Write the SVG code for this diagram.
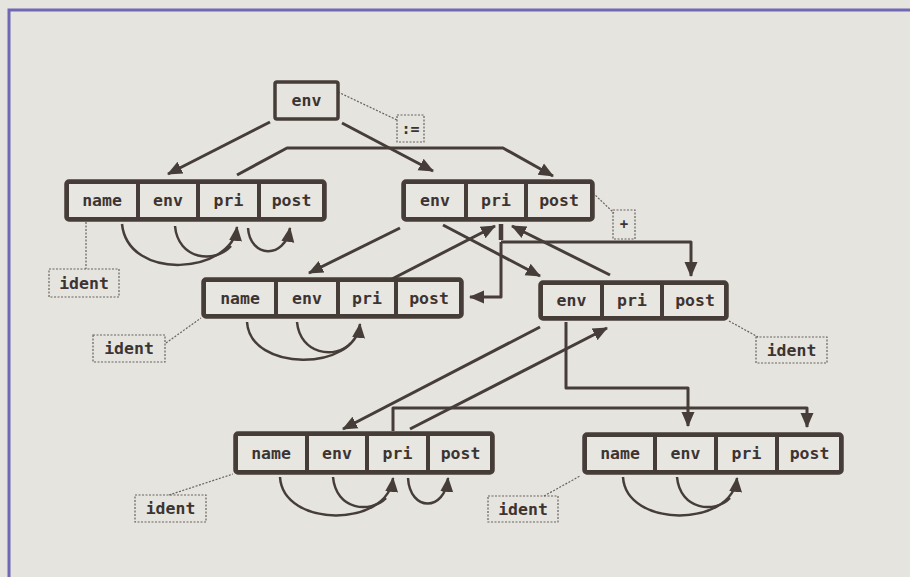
<svg xmlns="http://www.w3.org/2000/svg" width="910" height="577" viewBox="0 0 910 577">
<defs>
<style>
.bg{fill:#e5e4df}
.frame{fill:none;stroke:#6f68b4;stroke-width:3}
.outer{fill:none;stroke:#463d39;stroke-width:3.5}
.cell{fill:#e7e6e1;stroke:#463d39;stroke-width:2}
.dash{fill:none;stroke:#6a625e;stroke-width:1.2;stroke-dasharray:2 1.5}
.lbl{font-family:"DejaVu Sans Mono","Liberation Mono",monospace;font-weight:bold;font-size:16.5px;fill:#3d3431;text-anchor:middle;dominant-baseline:central}
.c{fill:none;stroke:#463d39;stroke-width:3;stroke-linejoin:round}
.cu{fill:none;stroke:#463d39;stroke-width:2.5}
.arr{marker-end:url(#ah)}
</style>
<marker id="ah" markerUnits="userSpaceOnUse" markerWidth="16" markerHeight="16" viewBox="0 0 16 16" refX="14" refY="8" orient="auto">
<path d="M0,1.5 L15,8 L0,14.5 z" fill="#463d39"/>
</marker>
</defs>
<rect class="bg" x="0" y="0" width="910" height="577"/>
<path class="frame" d="M9,577 L9,10 L910,10"/>

<g id="connectors">
<line class="c arr" x1="270" y1="122" x2="168" y2="174"/>
<line class="c arr" x1="342" y1="123" x2="433" y2="171"/>
<path class="c arr" d="M237,175 L287,148 L503,148 L553,176"/>
<path class="cu arr" d="M122,224 C128,282 232,274 237,227"/>
<path class="cu" d="M175,226 C178,260 215,264 231,246"/>
<path class="cu arr" d="M248,228 C250,258 285,260 290,228"/>
<line class="c arr" x1="400" y1="228" x2="309" y2="273"/>
<line class="c arr" x1="392" y1="279" x2="495" y2="226"/>
<line class="c arr" x1="443" y1="225" x2="540" y2="276"/>
<line class="c arr" x1="610" y1="275" x2="512" y2="226"/>
<line x1="501" y1="224" x2="501" y2="240" stroke="#463d39" stroke-width="4.5"/>
<path class="c arr" d="M501,242 L691,242 L691,276"/>
<path class="c arr" d="M501,242 L501,297 L470,297"/>
<path class="cu arr" d="M247,322 C250,372 355,372 360,324"/>
<path class="cu" d="M297,322 C300,354 335,360 351,343"/>
<path class="c arr" d="M566,322 L566,388 L688,388 L688,426"/>
<line class="c arr" x1="540" y1="327" x2="343" y2="429"/>
<line class="c arr" x1="410" y1="429" x2="607" y2="328"/>
<path class="c arr" d="M393,431 L393,408 L807,408 L807,427"/>
<path class="cu arr" d="M280,477 C283,528 388,528 393,478"/>
<path class="cu" d="M333,477 C336,510 370,514 386,498"/>
<path class="cu arr" d="M408,478 C410,512 445,512 448,478"/>
<path class="cu arr" d="M623,477 C626,528 732,528 737,478"/>
<path class="cu" d="M677,477 C680,510 715,514 730,498"/>
<line class="dash" x1="338" y1="92" x2="397" y2="120"/>
<line class="dash" x1="593" y1="193" x2="614" y2="213"/>
<line class="dash" x1="86" y1="222" x2="86" y2="269"/>
<line class="dash" x1="166" y1="343" x2="201" y2="318"/>
<line class="dash" x1="729" y1="321" x2="758" y2="337"/>
<line class="dash" x1="169" y1="495" x2="233" y2="474"/>
<line class="dash" x1="544" y1="496" x2="580" y2="476"/>
</g>

<g id="env-top">
<rect class="outer" x="275" y="82" width="63" height="37" rx="2" fill="#e7e6e1"/>
<text class="lbl" x="306.5" y="100.5">env</text>
</g>
<g id="assign">
<rect class="dash" x="397" y="115" width="27" height="27"/>
<text class="lbl" x="410.5" y="128.5" style="font-size:15px">:=</text>
</g>
<g id="plus">
<rect class="dash" x="613" y="210" width="22" height="29"/>
<text class="lbl" x="624" y="224" style="font-size:14px">+</text>
</g>

<g id="rec1-left">
<rect class="cell" x="68" y="183" width="69" height="35"/>
<rect class="cell" x="139" y="183" width="58" height="35"/>
<rect class="cell" x="199" y="183" width="59" height="35"/>
<rect class="cell" x="260" y="183" width="63" height="35"/>
<rect class="outer" x="66" y="181" width="259" height="39" rx="3"/>
<text class="lbl" x="102" y="200.5">name</text>
<text class="lbl" x="168" y="200.5">env</text>
<text class="lbl" x="228.5" y="200.5">pri</text>
<text class="lbl" x="291.5" y="200.5">post</text>
</g>
<g id="rec1-right">
<rect class="cell" x="405" y="183" width="60" height="35"/>
<rect class="cell" x="467" y="183" width="58" height="35"/>
<rect class="cell" x="527" y="183" width="64" height="35"/>
<rect class="outer" x="403" y="181" width="190" height="39" rx="3"/>
<text class="lbl" x="435" y="200.5">env</text>
<text class="lbl" x="496" y="200.5">pri</text>
<text class="lbl" x="559" y="200.5">post</text>
</g>
<g id="rec2-left">
<rect class="cell" x="205" y="281" width="70" height="34"/>
<rect class="cell" x="277" y="281" width="60" height="34"/>
<rect class="cell" x="339" y="281" width="56" height="34"/>
<rect class="cell" x="397" y="281" width="63" height="34"/>
<rect class="outer" x="203" y="279" width="259" height="38" rx="3"/>
<text class="lbl" x="240" y="298">name</text>
<text class="lbl" x="307" y="298">env</text>
<text class="lbl" x="367" y="298">pri</text>
<text class="lbl" x="429" y="298">post</text>
</g>
<g id="rec2-right">
<rect class="cell" x="542" y="284" width="59" height="33"/>
<rect class="cell" x="603" y="284" width="58" height="33"/>
<rect class="cell" x="663" y="284" width="62" height="33"/>
<rect class="outer" x="540" y="282" width="187" height="37" rx="3"/>
<text class="lbl" x="571.5" y="300.5">env</text>
<text class="lbl" x="632" y="300.5">pri</text>
<text class="lbl" x="695" y="300.5">post</text>
</g>
<g id="rec3-left">
<rect class="cell" x="237" y="435" width="69" height="36"/>
<rect class="cell" x="308" y="435" width="58" height="36"/>
<rect class="cell" x="368" y="435" width="59" height="36"/>
<rect class="cell" x="429" y="435" width="62" height="36"/>
<rect class="outer" x="235" y="433" width="258" height="40" rx="3"/>
<text class="lbl" x="271" y="453">name</text>
<text class="lbl" x="337" y="453">env</text>
<text class="lbl" x="397.5" y="453">pri</text>
<text class="lbl" x="460.5" y="453">post</text>
</g>
<g id="rec3-right">
<rect class="cell" x="586" y="436" width="68" height="35"/>
<rect class="cell" x="656" y="436" width="59" height="35"/>
<rect class="cell" x="717" y="436" width="59" height="35"/>
<rect class="cell" x="778" y="436" width="62" height="35"/>
<rect class="outer" x="584" y="434" width="258" height="39" rx="3"/>
<text class="lbl" x="620" y="453.5">name</text>
<text class="lbl" x="685.5" y="453.5">env</text>
<text class="lbl" x="746.5" y="453.5">pri</text>
<text class="lbl" x="809.5" y="453.5">post</text>
</g>

<g id="ident-1"><rect class="dash" x="49" y="269" width="70" height="28"/><text class="lbl" x="84" y="283">ident</text></g>
<g id="ident-2"><rect class="dash" x="93" y="335" width="72" height="27"/><text class="lbl" x="129" y="348.5">ident</text></g>
<g id="ident-3"><rect class="dash" x="756" y="337" width="71" height="26"/><text class="lbl" x="791.5" y="350">ident</text></g>
<g id="ident-4"><rect class="dash" x="135" y="495" width="71" height="27"/><text class="lbl" x="170.5" y="508.5">ident</text></g>
<g id="ident-5"><rect class="dash" x="488" y="496" width="70" height="26"/><text class="lbl" x="523" y="509">ident</text></g>
</svg>
